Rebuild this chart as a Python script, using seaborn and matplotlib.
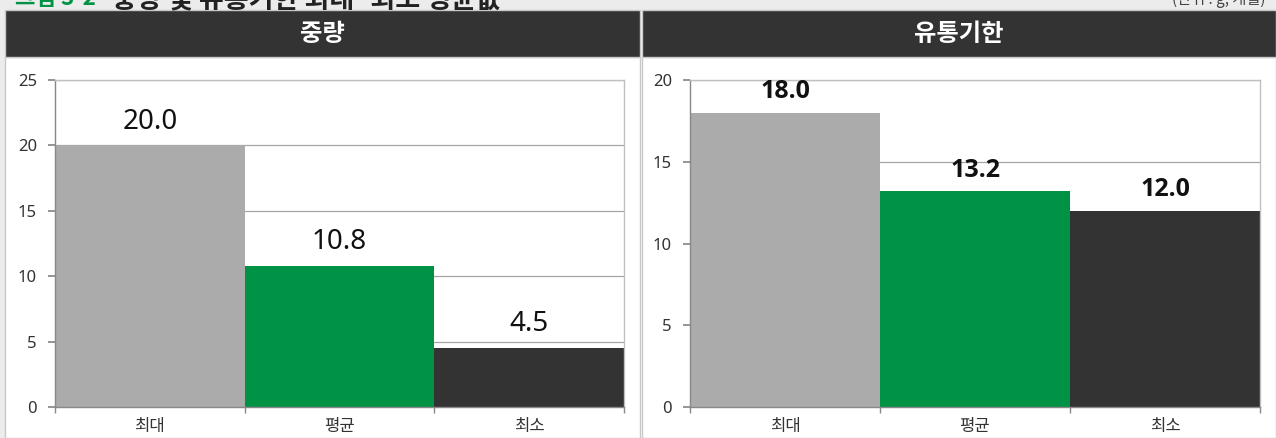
import matplotlib
matplotlib.use("Agg")
import matplotlib.pyplot as plt
import seaborn as sns
from matplotlib.patches import Rectangle
from matplotlib.ticker import FixedLocator

categories = ["최대", "평균", "최소"]
weight_values = [20.0, 10.8, 4.5]
shelf_values = [18.0, 13.2, 12.0]
bar_colors = ["#ababab", "#009245", "#333333"]
panel_titles = ["중량", "유통기한"]

sns.set_theme(style="white")
plt.rcParams["font.family"] = ["Noto Sans", "Noto Sans CJK KR", "DejaVu Sans"]
KR = ["Noto Sans CJK KR", "DejaVu Sans"]

W, H = 1276, 438
fig = plt.figure(figsize=(W / 100, H / 100), dpi=100)
fig.patch.set_facecolor("white")


def px_rect(x0, y0, x1, y1, **kw):
    # pixel box (top-left origin) -> figure rectangle, kept behind the axes
    r = Rectangle((x0 / W, 1 - y1 / H), (x1 - x0) / W, (y1 - y0) / H,
                  transform=fig.transFigure, zorder=-5, **kw)
    fig.patches.append(r)


# top strip and panel frames
px_rect(0, 0, W, 10, facecolor="#ececec", edgecolor="none")
px_rect(0, 10, 5, H, facecolor="#ececec", edgecolor="none")
px_rect(5, 57, 640, H, facecolor="white", edgecolor="#c8c8c8", lw=1)
px_rect(642, 57, W, H, facecolor="white", edgecolor="#c8c8c8", lw=1)
px_rect(5, 10, 640, 57, facecolor="#333333", edgecolor="#c8c8c8", lw=1)
px_rect(642, 10, W, 57, facecolor="#333333", edgecolor="#c8c8c8", lw=1)

# figure caption, cut off at the very top as in the source
fig.text(15 / W, 1 + 1 / H, "그림 3-2", color="#009245", fontsize=16,
         fontweight="bold", va="center", family=KR)
fig.text(112 / W, 1 + 1 / H, "중량 및 유통기한 최대·최소 평균값", color="#222222",
         fontsize=19.5, fontweight="bold", va="center", family=KR)
fig.text(1265 / W, 1 + 1 / H, "(단위 : g, 개월)", color="#444444",
         fontsize=11, ha="right", va="center", family=KR)

for title, x0, x1 in [(panel_titles[0], 5, 640), (panel_titles[1], 642, W)]:
    fig.text((x0 + x1) / 2 / W, 1 - 34 / H, title, color="white",
             fontsize=17.5, fontweight="bold", ha="center", va="center",
             family=KR)

ax1 = fig.add_axes([55 / W, 31 / H, 569 / W, 327 / H])
ax2 = fig.add_axes([690 / W, 31 / H, 570 / W, 327 / H])

setups = [
    (ax1, weight_values, 25, "normal", 20, 7, ["Noto Sans"]),
    (ax2, shelf_values, 20, "bold", 18, 6, ["Open Sans"]),
]

for ax, vals, ymax, weight, fsize, gap, fam in setups:
    sns.barplot(x=categories, y=vals, hue=categories, palette=bar_colors,
                width=1.0, legend=False, ax=ax, saturation=1, linewidth=0)
    ax.set_facecolor("white")
    ax.set_xlim(-0.5, 2.5)
    ax.set_ylim(0, ymax)
    ax.set_yticks(range(0, ymax + 1, 5))
    ax.yaxis.grid(True, color="#a6a6a6", lw=0.9)
    ax.set_axisbelow(True)
    ax.xaxis.set_minor_locator(FixedLocator([-0.5, 0.5, 1.5, 2.5]))
    ax.tick_params(axis="x", which="major", length=0, pad=9,
                   labelsize=12, labelcolor="#333333")
    ax.tick_params(axis="x", which="minor", length=4, color="#888888",
                   direction="out", bottom=True)
    ax.tick_params(axis="y", length=5, color="#888888", direction="out",
                   left=True, labelsize=12, labelcolor="#333333", pad=8)
    for side in ["left", "bottom"]:
        ax.spines[side].set_color("#888888")
        ax.spines[side].set_linewidth(1)
    for side in ["top", "right"]:
        ax.spines[side].set_color("#c0c0c0")
        ax.spines[side].set_linewidth(1)
    ax.set_xlabel("")
    ax.set_ylabel("")
    for i, v in enumerate(vals):
        ax.annotate(f"{v:.1f}", (i, v), xytext=(0, gap),
                    textcoords="offset points", ha="center", va="bottom",
                    fontsize=fsize, fontweight=weight, color="#111111",
                    family=fam)

fig.savefig("out.png", dpi=100)
